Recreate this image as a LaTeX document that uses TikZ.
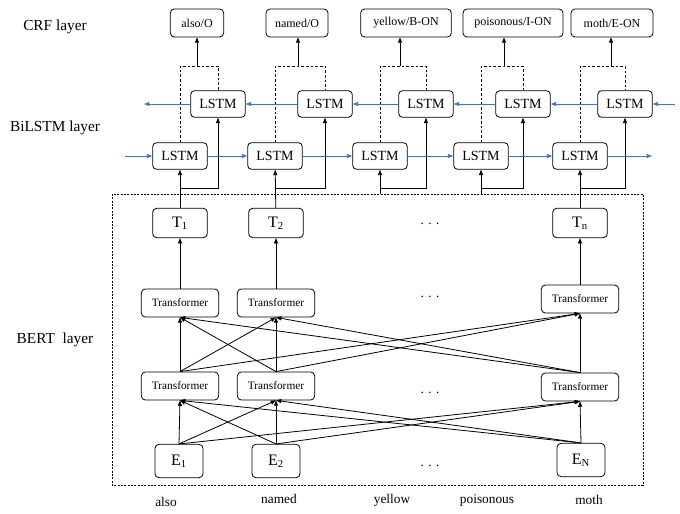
\documentclass[tikz,border=0pt]{standalone}
\usepackage{fontspec}
\setmainfont{Liberation Serif}
\usetikzlibrary{arrows.meta}
\definecolor{lstmblue}{RGB}{68,114,196}

\begin{document}
\begin{tikzpicture}[x=0.75pt, y=-0.75pt,
    box/.style={draw, rounded corners=3pt, inner sep=0pt, line width=0.6pt},
    lstm/.style={box, minimum width=41pt, minimum height=20pt, font=\fontsize{10.5}{12}\selectfont},
    crf/.style={box, minimum height=21pt, font=\fontsize{9}{10}\selectfont},
    trans/.style={box, minimum width=58pt, minimum height=21pt, font=\fontsize{8.5}{10}\selectfont},
    tok/.style={box, minimum width=41pt, minimum height=22pt, font=\fontsize{12}{14}\selectfont},
    emb/.style={box, minimum width=36pt, minimum height=25pt, font=\fontsize{12}{14}\selectfont},
    arr/.style={-{Triangle[length=4pt,width=3pt]}, line width=0.6pt},
    blu/.style={-{Triangle[length=4pt,width=3pt]}, lstmblue, line width=0.6pt},
    dsh/.style={line width=0.6pt, dash pattern=on 2pt off 1.5pt},
    lab/.style={font=\fontsize{11.5}{13}\selectfont},
    word/.style={font=\fontsize{10}{12}\selectfont}]

  \useasboundingbox (0,0) rectangle (680,513);

  \node[lab] (crflab) at (55,27) {CRF layer};
  \node[lab] (bilab) at (55,128) {BiLSTM layer};
  \node[lab] (bertlab) at (55,340) {BERT\ \ layer};

  % BERT part
  \draw[dsh, dash pattern=on 1.5pt off 1pt] (112,194) rectangle (643,485);
  \foreach \k/\xo/\yt/\yb in {1/180/303/386, 2/276/303/386, n/580/299/387} {
    \node[tok] (T\k) at (\xo,223) {T\textsubscript{\k}};
    \node[trans] (tA\k) at (\xo,\yt) {Transformer};
    \node[trans] (tB\k) at (\xo,\yb) {Transformer};
  }
  \node[emb] (E1) at (179,461) {E\textsubscript{1}};
  \node[emb] (E2) at (276,461) {E\textsubscript{2}};
  \node[emb] (En) at (581,460) {E\textsubscript{N}};
  \foreach \yd [count=\d] in {224,297,393,466}
    \node[word] (dots\d) at (430,\yd) {.\,\,.\,\,.};

  \foreach \a in {1,2,n} {
    \foreach \b in {1,2,n} {
      \draw[arr] (E\a.north) -- (tB\b.south);
      \draw[arr] (tB\a.north) -- (tA\b.south);
    }
    \draw[arr] (tA\a) -- (T\a);
  }

  \foreach \w/\xw/\yw in {also/166/502, named/279/499, yellow/392/500, poisonous/487/500, moth/589/500}
    \node[word] (w\w) at (\xw,\yw) {\w};

  % BiLSTM and CRF part
  \foreach \i/\xf/\xb/\xa/\xc/\wc/\lab in {1/180/218/197/197/40/{also/O}, 2/275/325/298/297/46.5/{named/O}, 3/380/426/400/406/68/{yellow/B-ON}, 4/481/523/504/513/75/{poisonous/I-ON}, 5/580/625/611/612/61.5/{moth/E-ON}} {
    \node[lstm] (f\i) at (\xf,156) {LSTM};
    \node[lstm] (b\i) at (\xb,104) {LSTM};
    \node[crf, minimum width=\wc pt] (c\i) at (\xc,23) {\lab};
    \coordinate (j\i) at (\xa,66);
    \coordinate (s\i) at (\xf,188);
    \draw[dsh] (f\i.north) |- (j\i) -| (b\i.north);
    \draw[arr] (j\i) -- (j\i |- c\i.south);
    \draw[arr] (s\i) -| (b\i.south);
  }
  \coordinate (in3) at (380,194);
  \coordinate (in4) at (481,194);
  \foreach \i/\src in {1/T1, 2/T2, 3/in3, 4/in4, 5/Tn}
    \draw[arr] (\src) -- (f\i);

  \coordinate (fin) at (125,156);
  \coordinate (fout) at (652,156);
  \coordinate (bin) at (675,104);
  \coordinate (bout) at (144,104);
  \draw[blu] (fin) -- (f1);
  \draw[blu] (f5) -- (fout);
  \draw[blu] (bin) -- (b5);
  \draw[blu] (b1) -- (bout);
  \foreach \i [evaluate=\i as \n using int(\i+1)] in {1,...,4} {
    \draw[blu] (f\i) -- (f\n);
    \draw[blu] (b\n) -- (b\i);
  }
\end{tikzpicture}
\end{document}
